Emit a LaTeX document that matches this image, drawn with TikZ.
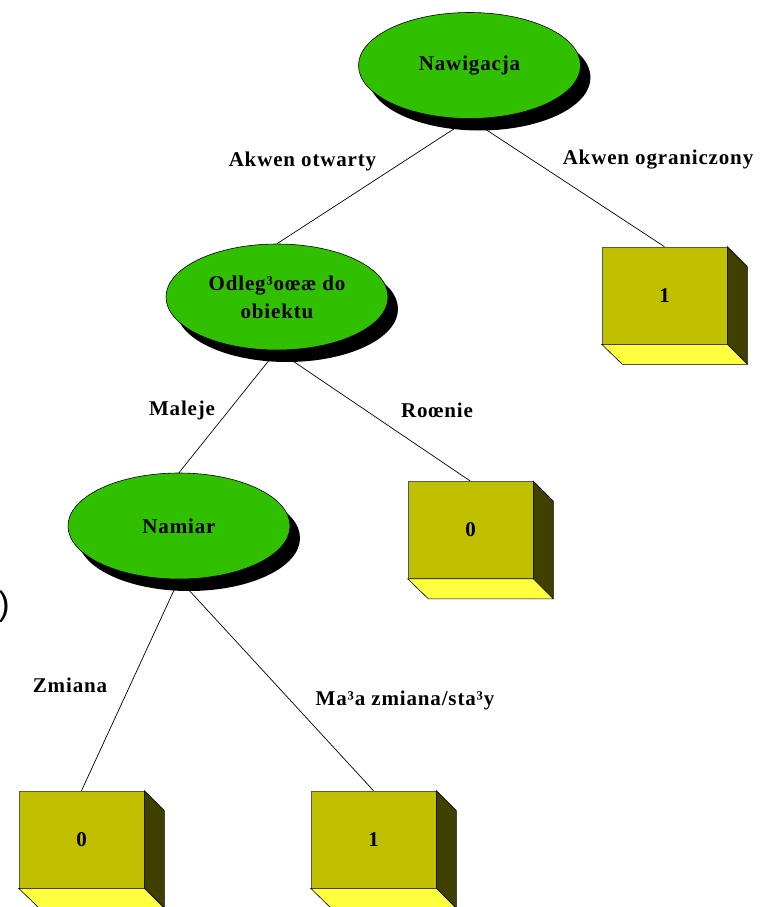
\documentclass[tikz,border=0pt]{standalone}
\usepackage{fontspec}
\setmainfont{Liberation Serif}
\newfontfamily\treefont[LetterSpace=4]{Liberation Serif}
\newfontfamily\parenfont{Liberation Sans}
\usetikzlibrary{shapes.geometric,shadows,backgrounds}

\definecolor{decisiongreen}{HTML}{30C000}
\definecolor{boxfront}{HTML}{C0C000}
\definecolor{boxside}{HTML}{404000}
\definecolor{boxbottom}{HTML}{FFFF40}

% side and bottom faces of a leaf box, 20pt deep
\newcommand\leafsides[1]{%
  \path[fill=boxside, draw=black, line width=0.6pt]
    (#1.north east) -- ++(20,20) -- ++(0,97) -- (#1.south east) -- cycle;
  \path[fill=boxbottom, draw=black, line width=0.6pt]
    (#1.south west) -- (#1.south east) -- ++(20,20) -- ++(-125,0) -- cycle;
}

\begin{document}
\begin{tikzpicture}[x=1pt,y=-1pt,
  decision/.style={ellipse, draw=black, line width=0.6pt, fill=decisiongreen,
    minimum width=222pt, minimum height=106pt, inner sep=0pt, align=center,
    font=\treefont\bfseries\fontsize{21}{28}\selectfont,
    drop shadow={shadow xshift=10pt, shadow yshift=-12pt, fill=black, opacity=1}},
  leaf/.style={rectangle, draw=black!65, line width=0.6pt, fill=boxfront,
    minimum width=125pt, minimum height=97pt, inner sep=0pt,
    font=\treefont\bfseries\fontsize{21}{24}\selectfont},
  branch/.style={inner sep=0pt, font=\treefont\bfseries\fontsize{21}{24}\selectfont},
  edge/.style={draw=black, line width=0.7pt}
]
\useasboundingbox (0,0) rectangle (765,907);

% decision nodes
\node[decision] (nav)  at (469.5,65.5) {Nawigacja};
\node[decision] (dist) at (277,297)    {Odleg³oœæ do\\obiektu};
\node[decision] (nam)  at (179,526)    {Namiar};

% leaf boxes
\node[leaf] (b1) at (664.5,295.5) {1};
\node[leaf] (b2) at (470.5,530)   {0};
\node[leaf] (b3) at (81.5,839.5)  {0};
\node[leaf] (b4) at (373.5,839.5) {1};
\leafsides{b1}
\leafsides{b2}
\leafsides{b3}
\leafsides{b4}

% branches, behind the nodes
\begin{scope}[on background layer]
  \draw[edge] (nav.south)  -- (dist.north);
  \draw[edge] (nav.south)  -- (b1.north);
  \draw[edge] (dist.south) -- (nam.north);
  \draw[edge] (dist.south) -- (b2.north);
  \draw[edge] (nam.south)  -- (b3.north);
  \draw[edge] (nam.south)  -- (b4.north);
\end{scope}

% branch labels
\node[branch] (l1) at (302.5,161) {Akwen otwarty};
\node[branch] (l2) at (658,160)   {Akwen ograniczony};
\node[branch] (l3) at (182,410)   {Maleje};
\node[branch] (l4) at (437,410)   {Roœnie};
\node[branch] (l5) at (70,685)    {Zmiana};
\node[branch] (l6) at (405,700)   {Ma³a zmiana/sta³y};

\node[anchor=east, inner sep=0pt, font=\parenfont\fontsize{34}{34}\selectfont] (paren) at (10,607) {)};
\end{tikzpicture}
\end{document}
